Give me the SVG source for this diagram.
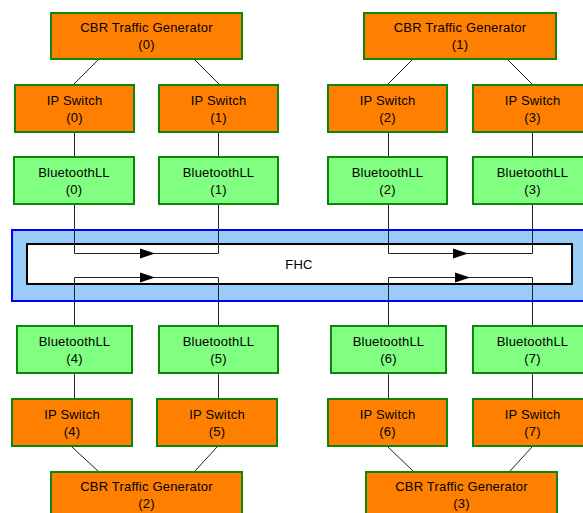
<svg xmlns="http://www.w3.org/2000/svg" width="583" height="513" viewBox="0 0 583 513">
<style>
.o{fill:#ff8000;stroke:#0b860b;stroke-width:2}
.g{fill:#80ff80;stroke:#0b860b;stroke-width:2}
text{font-family:"Liberation Sans",Arial,sans-serif;font-size:13px;letter-spacing:0.2px;fill:#000;text-anchor:middle}
.c line,.c path{stroke:#222;stroke-width:1;fill:none}
.c polygon{fill:#000;stroke:none}
</style>
<rect width="583" height="513" fill="#fff"/>
<g id="fhc">
<rect x="12" y="230" width="600" height="71" fill="#99ccf7" stroke="#0000ff" stroke-width="2"/>
<rect x="27" y="244" width="545" height="40" fill="#fff" stroke="#000" stroke-width="2"/>
<text x="299" y="268.5">FHC</text>
</g>
<g id="connectors" class="c">
<line x1="98" y1="60" x2="74" y2="84"/>
<line x1="195" y1="60" x2="219" y2="84"/>
<line x1="412" y1="60" x2="388" y2="84"/>
<line x1="508" y1="60" x2="532" y2="84"/>
<line x1="74.5" y1="133" x2="74.5" y2="156"/>
<line x1="218.5" y1="133" x2="218.5" y2="156"/>
<line x1="388.5" y1="133" x2="388.5" y2="156"/>
<line x1="532.5" y1="133" x2="532.5" y2="156"/>
<path d="M74.5 205V253.5H218.5V205"/>
<path d="M388.5 205V253.5H532.5V205"/>
<path d="M74.5 325V277.5H218.5V325"/>
<path d="M388.5 325V277.5H532.5V325"/>
<polygon points="140,248.5 155,253.5 140,258.5"/>
<polygon points="453,248.5 468,253.5 453,258.5"/>
<polygon points="140,272.5 155,277.5 140,282.5"/>
<polygon points="455,272.5 470,277.5 455,282.5"/>
<line x1="74.5" y1="374" x2="74.5" y2="398"/>
<line x1="218.5" y1="374" x2="218.5" y2="398"/>
<line x1="388.5" y1="374" x2="388.5" y2="398"/>
<line x1="532.5" y1="374" x2="532.5" y2="398"/>
<line x1="72" y1="447" x2="98" y2="471"/>
<line x1="217" y1="447" x2="195" y2="471"/>
<line x1="388" y1="447" x2="413" y2="471"/>
<line x1="532" y1="447" x2="510" y2="471"/>
</g>
<g id="cbr0"><rect class="o" x="51" y="13" width="191" height="46"/><text x="146.5" y="32">CBR Traffic Generator</text><text x="146.5" y="49">(0)</text></g>
<g id="cbr1"><rect class="o" x="364" y="13" width="192" height="46"/><text x="460" y="32">CBR Traffic Generator</text><text x="460" y="49">(1)</text></g>
<g id="ip0"><rect class="o" x="15" y="85" width="119" height="47"/><text x="74.5" y="104.5">IP Switch</text><text x="74.5" y="121.5">(0)</text></g>
<g id="ip1"><rect class="o" x="159" y="85" width="119" height="47"/><text x="218.5" y="104.5">IP Switch</text><text x="218.5" y="121.5">(1)</text></g>
<g id="ip2"><rect class="o" x="328" y="85" width="119" height="47"/><text x="387.5" y="104.5">IP Switch</text><text x="387.5" y="121.5">(2)</text></g>
<g id="ip3"><rect class="o" x="473" y="85" width="119" height="47"/><text x="532.5" y="104.5">IP Switch</text><text x="532.5" y="121.5">(3)</text></g>
<g id="bt0"><rect class="g" x="14" y="157" width="120" height="47"/><text x="74" y="176.5">BluetoothLL</text><text x="74" y="193.5">(0)</text></g>
<g id="bt1"><rect class="g" x="159" y="157" width="119" height="47"/><text x="218.5" y="176.5">BluetoothLL</text><text x="218.5" y="193.5">(1)</text></g>
<g id="bt2"><rect class="g" x="328" y="157" width="119" height="47"/><text x="387.5" y="176.5">BluetoothLL</text><text x="387.5" y="193.5">(2)</text></g>
<g id="bt3"><rect class="g" x="473" y="157" width="119" height="47"/><text x="532.5" y="176.5">BluetoothLL</text><text x="532.5" y="193.5">(3)</text></g>
<g id="bt4"><rect class="g" x="17" y="326" width="115" height="47"/><text x="74.5" y="345.5">BluetoothLL</text><text x="74.5" y="362.5">(4)</text></g>
<g id="bt5"><rect class="g" x="159" y="326" width="119" height="47"/><text x="218.5" y="345.5">BluetoothLL</text><text x="218.5" y="362.5">(5)</text></g>
<g id="bt6"><rect class="g" x="331" y="326" width="115" height="47"/><text x="388.5" y="345.5">BluetoothLL</text><text x="388.5" y="362.5">(6)</text></g>
<g id="bt7"><rect class="g" x="473" y="326" width="119" height="47"/><text x="532.5" y="345.5">BluetoothLL</text><text x="532.5" y="362.5">(7)</text></g>
<g id="ip4"><rect class="o" x="12" y="399" width="120" height="47"/><text x="72" y="418.5">IP Switch</text><text x="72" y="435.5">(4)</text></g>
<g id="ip5"><rect class="o" x="157" y="399" width="120" height="47"/><text x="217" y="418.5">IP Switch</text><text x="217" y="435.5">(5)</text></g>
<g id="ip6"><rect class="o" x="328" y="399" width="119" height="47"/><text x="387.5" y="418.5">IP Switch</text><text x="387.5" y="435.5">(6)</text></g>
<g id="ip7"><rect class="o" x="473" y="399" width="119" height="47"/><text x="532.5" y="418.5">IP Switch</text><text x="532.5" y="435.5">(7)</text></g>
<g id="cbr2"><rect class="o" x="51" y="472" width="191" height="46"/><text x="146.5" y="491">CBR Traffic Generator</text><text x="146.5" y="508">(2)</text></g>
<g id="cbr3"><rect class="o" x="366" y="472" width="191" height="46"/><text x="461.5" y="491">CBR Traffic Generator</text><text x="461.5" y="508">(3)</text></g>
</svg>
